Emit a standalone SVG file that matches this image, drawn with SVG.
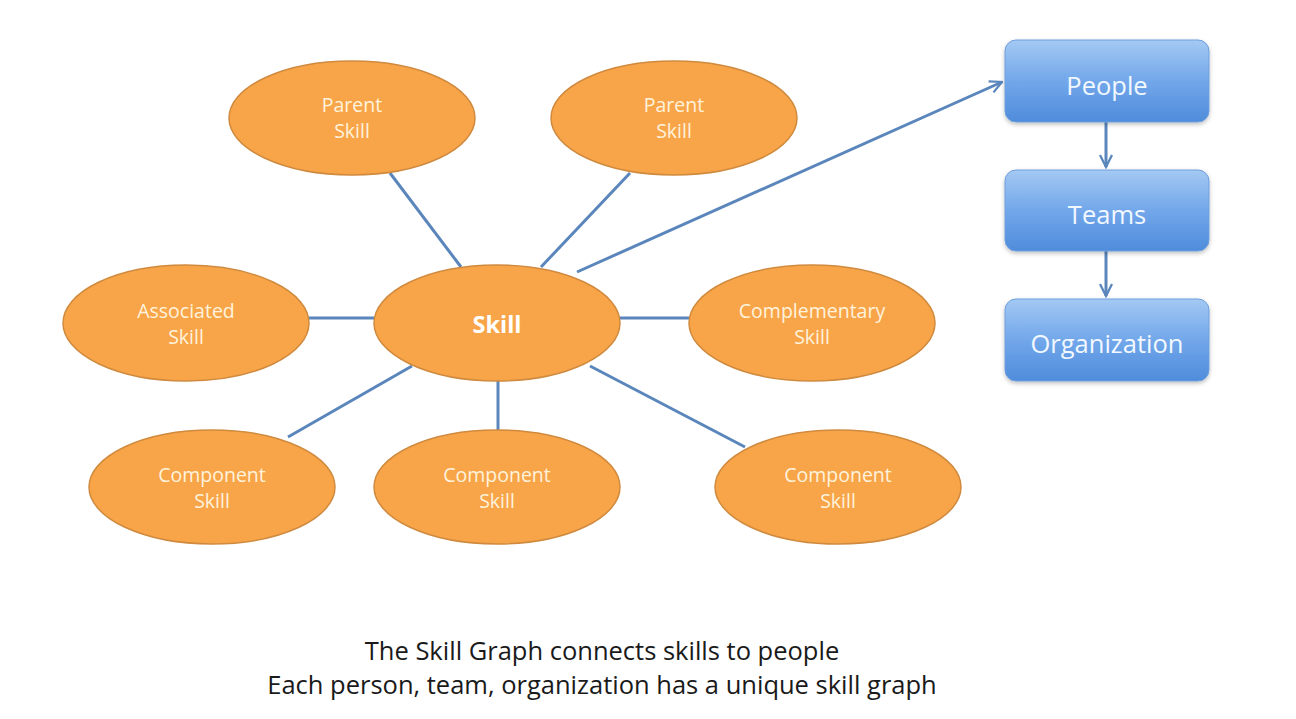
<svg xmlns="http://www.w3.org/2000/svg" width="1296" height="719" viewBox="0 0 1296 719">
<style>
.ell{fill:#F8A54A;stroke:#D08A3E;stroke-width:1.5}
.lbl{font-family:"Open Sans","Liberation Sans",sans-serif;font-size:19.5px;fill:#FFF3DC;text-anchor:middle}
.big{font-size:23.5px;font-weight:bold;fill:#FFFFFF}
.box{fill:url(#bg);stroke:#6E9FDC;stroke-width:1}
.blbl{font-family:"Open Sans","Liberation Sans",sans-serif;font-size:25.5px;fill:#F2F8FF;text-anchor:middle}
.con{stroke:#5A86BC;stroke-width:3;fill:none}
.cap{font-family:"Open Sans","Liberation Sans",sans-serif;font-size:25.5px;fill:#1a1a1a;text-anchor:middle}
</style>
<defs>
<linearGradient id="bg" x1="0" y1="0" x2="0" y2="1">
<stop offset="0" stop-color="#A4C9F3"/>
<stop offset="0.5" stop-color="#72A7EA"/>
<stop offset="1" stop-color="#4F8CDB"/>
</linearGradient>
<filter id="sh" x="-10%" y="-10%" width="120%" height="130%">
<feDropShadow dx="0" dy="2" stdDeviation="2" flood-color="#000" flood-opacity="0.25"/>
</filter>
<marker id="arr" viewBox="0 0 10 10" refX="9" refY="5" markerWidth="5" markerHeight="5" orient="auto" markerUnits="strokeWidth">
<path d="M1,1 L9,5 L1,9" fill="none" stroke="#5A86BC" stroke-width="1.5"/>
</marker>
</defs>
<rect width="1296" height="719" fill="#FFFFFF"/>
<g id="connectors">
<line class="con" x1="390" y1="173" x2="461" y2="267"/>
<line class="con" x1="630" y1="173" x2="541" y2="267"/>
<line class="con" x1="577" y1="272" x2="1002" y2="82" marker-end="url(#arr)"/>
<line class="con" x1="309" y1="318" x2="374" y2="318"/>
<line class="con" x1="620" y1="318" x2="689" y2="318"/>
<line class="con" x1="288" y1="437" x2="412" y2="366"/>
<line class="con" x1="498" y1="381" x2="498" y2="430"/>
<line class="con" x1="590" y1="366" x2="745" y2="447"/>
<line class="con" x1="1106" y1="122" x2="1106" y2="167" marker-end="url(#arr)"/>
<line class="con" x1="1106" y1="251" x2="1106" y2="296" marker-end="url(#arr)"/>
</g>
<g id="parent1"><ellipse class="ell" cx="352" cy="118" rx="123" ry="57"/><text class="lbl" x="352" y="112">Parent</text><text class="lbl" x="352" y="138">Skill</text></g>
<g id="parent2"><ellipse class="ell" cx="674" cy="118" rx="123" ry="57"/><text class="lbl" x="674" y="112">Parent</text><text class="lbl" x="674" y="138">Skill</text></g>
<g id="associated"><ellipse class="ell" cx="186" cy="323" rx="123" ry="58"/><text class="lbl" x="186" y="318">Associated</text><text class="lbl" x="186" y="344">Skill</text></g>
<g id="skill"><ellipse class="ell" cx="497" cy="323" rx="123" ry="58"/><text class="lbl big" x="497" y="333">Skill</text></g>
<g id="complementary"><ellipse class="ell" cx="812" cy="323" rx="123" ry="58"/><text class="lbl" x="812" y="318">Complementary</text><text class="lbl" x="812" y="344">Skill</text></g>
<g id="component1"><ellipse class="ell" cx="212" cy="487" rx="123" ry="57"/><text class="lbl" x="212" y="482">Component</text><text class="lbl" x="212" y="508">Skill</text></g>
<g id="component2"><ellipse class="ell" cx="497" cy="487" rx="123" ry="57"/><text class="lbl" x="497" y="482">Component</text><text class="lbl" x="497" y="508">Skill</text></g>
<g id="component3"><ellipse class="ell" cx="838" cy="487" rx="123" ry="57"/><text class="lbl" x="838" y="482">Component</text><text class="lbl" x="838" y="508">Skill</text></g>
<g id="people"><rect class="box" filter="url(#sh)" x="1005" y="40" width="204" height="82" rx="11"/><text class="blbl" x="1107" y="95">People</text></g>
<g id="teams"><rect class="box" filter="url(#sh)" x="1005" y="170" width="204" height="81" rx="11"/><text class="blbl" x="1107" y="224">Teams</text></g>
<g id="organization"><rect class="box" filter="url(#sh)" x="1005" y="299" width="204" height="82" rx="11"/><text class="blbl" x="1107" y="353">Organization</text></g>
<g id="caption">
<text class="cap" x="602" y="660">The Skill Graph connects skills to people</text>
<text class="cap" x="602" y="694">Each person, team, organization has a unique skill graph</text>
</g>
</svg>
